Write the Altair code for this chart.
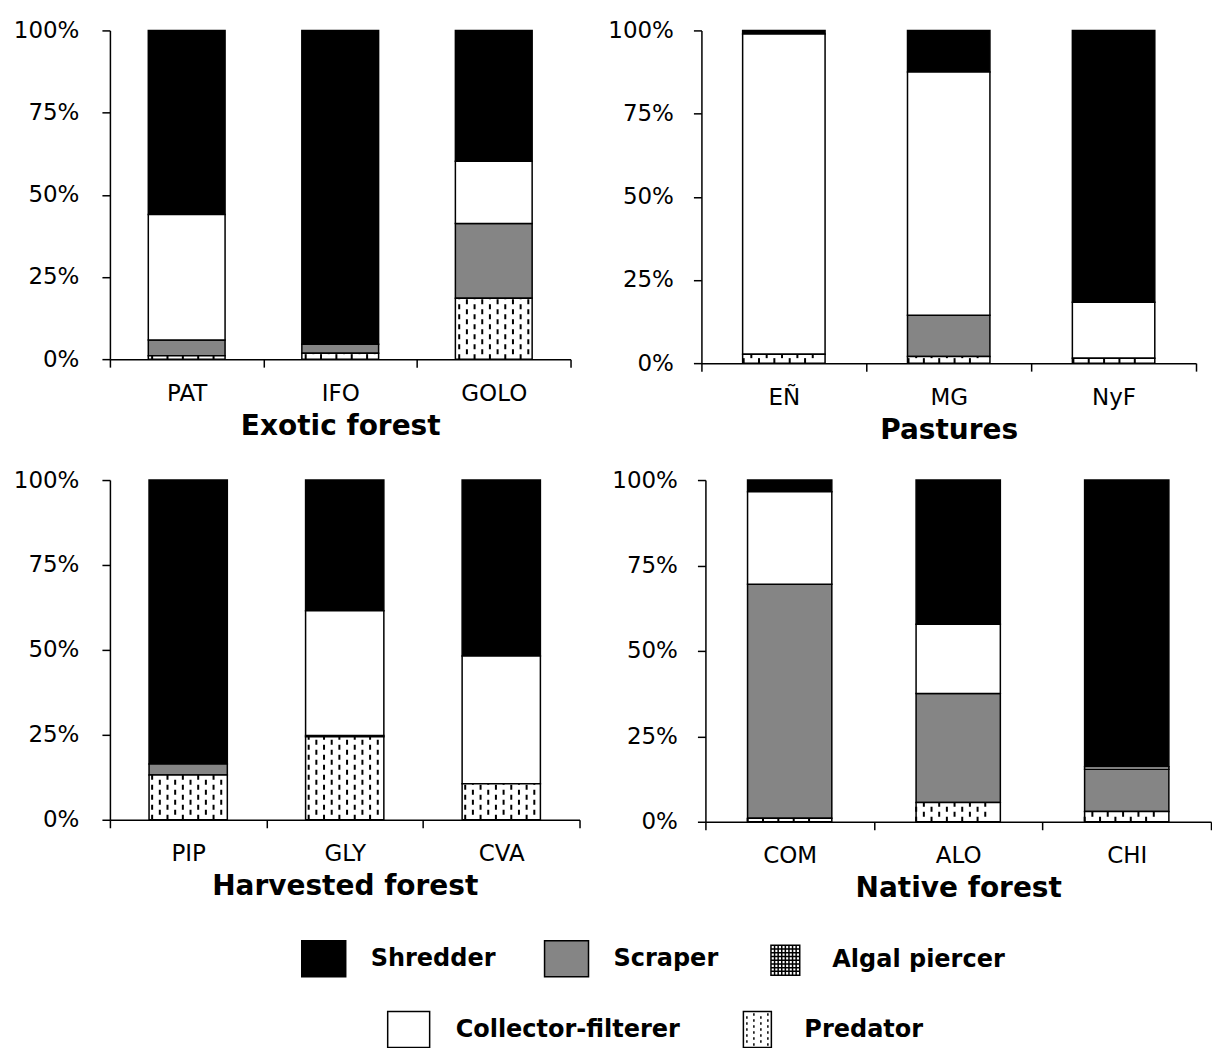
import altair as alt
import pandas as pd

# ---------------- data ----------------
GROUPS = ["Shredder", "Scraper", "Algal piercer", "Collector-filterer", "Predator"]
FILLS = ["#000000", "#858585", "#ffffff", "#ffffff", "#ffffff"]
STACK_ORDER = ["Predator", "Algal piercer", "Scraper", "Collector-filterer", "Shredder"]

exotic_sites = ["PAT", "IFO", "GOLO"]
exotic_shredder = [56.0, 95.5, 39.8]
exotic_scraper = [4.8, 2.7, 22.8]
exotic_algal = [0.0, 0.0, 0.0]
exotic_collector = [38.2, 0.0, 18.9]
exotic_predator = [1.0, 1.8, 18.5]

pasture_sites = ["EÑ", "MG", "NyF"]
pasture_shredder = [1.1, 12.5, 81.7]
pasture_scraper = [0.0, 12.4, 0.0]
pasture_algal = [0.0, 0.0, 0.0]
pasture_collector = [96.2, 73.1, 16.8]
pasture_predator = [2.7, 2.0, 1.5]

harvest_sites = ["PIP", "GLY", "CVA"]
harvest_shredder = [83.6, 38.5, 51.8]
harvest_scraper = [3.2, 0.4, 0.0]
harvest_algal = [0.0, 0.0, 0.0]
harvest_collector = [0.0, 36.7, 37.6]
harvest_predator = [13.2, 24.4, 10.6]

native_sites = ["COM", "ALO", "CHI"]
native_shredder = [3.4, 42.2, 83.9]
native_scraper = [68.5, 31.9, 12.4]
native_algal = [0.0, 0.0, 0.0]
native_collector = [27.1, 20.3, 0.7]
native_predator = [1.0, 5.6, 3.0]

Y_TICKS = [0, 25, 50, 75, 100]

# predator hatching: 10 dashed stripes in the middle half of each band
N_STRIPES = 10
OFFSET_SLOTS = list(range(2 * N_STRIPES))
FIRST_SLOT = N_STRIPES // 2

LEG_ROW1 = ["Shredder", "Scraper", "Algal piercer"]
LEG_ROW2 = ["Collector-filterer", "Predator"]

FONT = "DejaVu Sans"


# ---------------- legend symbol paths ----------------
def box_path(hx, hy):
    return f"M{-hx},{-hy}H{hx}V{hy}H{-hx}Z"


def grid_path(hx, hy, n):
    p = box_path(hx, hy)
    for i in range(1, n):
        x = -hx + 2 * hx * i / n
        y = -hy + 2 * hy * i / n
        p += f"M{x:.3f},{-hy}V{hy}M{-hx},{y:.3f}H{hx}"
    return p


def dash_path(hx, hy, cols):
    p = box_path(hx, hy)
    for i in range(cols):
        x = -hx + 2 * hx * (i + 0.5) / cols
        y = -hy + (0.08 if i % 2 else 0.23)
        while y + 0.13 < hy:
            p += f"M{x:.3f},{y:.3f}V{y + 0.13:.3f}"
            y += 0.3
    return p


SHAPES = {
    "Shredder": box_path(1.1, 0.9),
    "Scraper": box_path(1.1, 0.9),
    "Algal piercer": grid_path(0.72, 0.75, 8),
    "Collector-filterer": box_path(1.05, 0.9),
    "Predator": dash_path(0.7, 0.9, 4),
}


def panel(title, sites, shr, scr, alg, col, pred, width, height, ypad):
    series = {
        "Shredder": shr,
        "Scraper": scr,
        "Algal piercer": alg,
        "Collector-filterer": col,
        "Predator": pred,
    }
    rows = []
    for g, vals in series.items():
        for s, v in zip(sites, vals):
            rows.append({"site": s, "group": g, "value": v, "order": STACK_ORDER.index(g)})
    df = pd.DataFrame(rows)
    stripes = pd.DataFrame(
        [
            {"site": s, "stripe": FIRST_SLOT + k, "parity": k % 2, "base": 0.0, "pred": p}
            for s, p in zip(sites, pred)
            for k in range(N_STRIPES)
        ]
    )

    x_axis = alt.Axis(title=title, labelAngle=0, tickBand="extent")
    y_axis = alt.Axis(values=Y_TICKS, labelExpr="datum.value + '%'", title=None, labelPadding=ypad)
    x_scale = alt.Scale(paddingInner=0, paddingOuter=0)
    y_scale = alt.Scale(domain=[0, 100], nice=False)

    bars = (
        alt.Chart(df)
        .transform_filter("datum.value > 0")
        .mark_bar(width=alt.RelativeBandSize(0.5), stroke="black", strokeWidth=1.5)
        .encode(
            x=alt.X("site:N", sort=sites, scale=x_scale, axis=x_axis),
            y=alt.Y("value:Q", stack="zero", scale=y_scale, axis=y_axis),
            color=alt.Color("group:N", scale=alt.Scale(domain=GROUPS, range=FILLS), legend=None),
            order=alt.Order("order:Q", sort="ascending"),
        )
    )

    def stripe_layer(parity):
        return (
            alt.Chart(stripes)
            .transform_filter(f"datum.parity == {parity}")
            .mark_rule(color="black", strokeWidth=2, strokeDash=[5, 5], strokeDashOffset=5 * parity)
            .encode(
                x=alt.X("site:N", sort=sites, scale=x_scale, axis=x_axis),
                xOffset=alt.XOffset(
                    "stripe:O",
                    scale=alt.Scale(domain=OFFSET_SLOTS, paddingInner=0, paddingOuter=0),
                ),
                y=alt.Y("base:Q", scale=y_scale, axis=y_axis),
                y2="pred:Q",
            )
        )

    return alt.layer(bars, stripe_layer(0), stripe_layer(1)).properties(width=width, height=height)


def legend_layer(groups, lx, ly, colpad):
    df = pd.DataFrame({"group": groups})
    leg = alt.Legend(
        title=None,
        orient="none",
        legendX=lx,
        legendY=ly,
        direction="horizontal",
        columns=len(groups),
        symbolSize=1600,
        symbolStrokeWidth=1.5,
        symbolOpacity=1,
        labelFont=FONT,
        labelFontSize=24,
        labelFontWeight="bold",
        labelColor="black",
        labelOffset=26,
        labelLimit=400,
        columnPadding=colpad,
        padding=0,
    )
    return (
        alt.Chart(df)
        .mark_point(filled=True, opacity=0, stroke="black", strokeWidth=1.5)
        .encode(
            fill=alt.Fill(
                "group:N",
                sort=groups,
                scale=alt.Scale(domain=groups, range=[FILLS[GROUPS.index(g)] for g in groups]),
                legend=leg,
            ),
            shape=alt.Shape(
                "group:N",
                sort=groups,
                scale=alt.Scale(domain=groups, range=[SHAPES[g] for g in groups]),
                legend=leg,
            ),
        )
    )


p1 = panel("Exotic forest", exotic_sites, exotic_shredder, exotic_scraper, exotic_algal,
           exotic_collector, exotic_predator, 461, 329, 23)
p2 = panel("Pastures", pasture_sites, pasture_shredder, pasture_scraper, pasture_algal,
           pasture_collector, pasture_predator, 495, 333, 20)
p3 = panel("Harvested forest", harvest_sites, harvest_shredder, harvest_scraper, harvest_algal,
           harvest_collector, harvest_predator, 470, 340, 23)
p4 = panel("Native forest", native_sites, native_shredder, native_scraper, native_algal,
           native_collector, native_predator, 506, 342, 20)

row1 = alt.hconcat(p1, p2, spacing=36)
row2 = alt.hconcat(p3, p4, spacing=31)

legend_chart = (
    alt.layer(legend_layer(LEG_ROW1, 193, 8, 46), legend_layer(LEG_ROW2, 278, 79, 56))
    .resolve_scale(fill="independent", shape="independent")
    .properties(width=1, height=1)
)

chart = (
    alt.vconcat(row1, row2, legend_chart, spacing=25)
    .resolve_scale(color="independent", fill="independent", shape="independent")
    .properties(padding={"left": 5, "top": 11, "right": 0, "bottom": 0}, background="white")
    .configure_view(stroke=None)
    .configure_axis(
        grid=False,
        domainColor="black",
        domainWidth=1.5,
        tickColor="black",
        tickWidth=1.5,
        tickSize=8,
        labelFont=FONT,
        labelFontSize=23,
        labelColor="black",
        titleFont=FONT,
        titleFontSize=28,
        titleFontWeight="bold",
        titleColor="black",
    )
    .configure_axisX(labelPadding=15, titlePadding=7)
)

chart.save("out.html", embed_options={"renderer": "svg", "actions": False})
